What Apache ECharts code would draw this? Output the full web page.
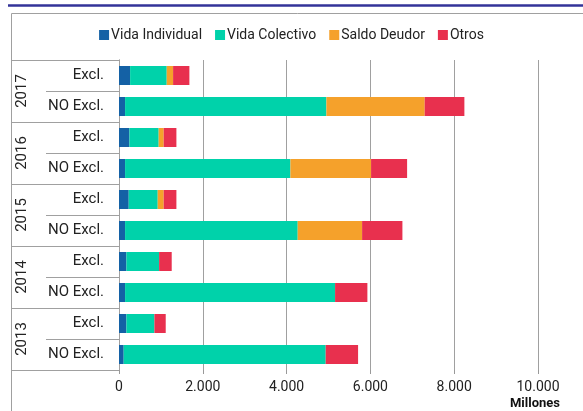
<!DOCTYPE html>
<html>
<head>
<meta charset="utf-8">
<script src="https://cdn.jsdelivr.net/npm/echarts@6/dist/echarts.min.js"></script>
<style>html,body{margin:0;padding:0;background:#fff}#c{width:583px;height:411px}</style>
</head>
<body>
<div id="c"></div>
<script>
const years = ['2017', '2016', '2015', '2014', '2013'];
const subCats = ['Excl.', 'NO Excl.', 'Excl.', 'NO Excl.', 'Excl.', 'NO Excl.', 'Excl.', 'NO Excl.', 'Excl.', 'NO Excl.'];
const seriesNames = ['Vida Individual', 'Vida Colectivo', 'Saldo Deudor', 'Otros'];
// Order: 2017 Excl, 2017 NO Excl, 2016 Excl, 2016 NO Excl, ... 2013 NO Excl
const vidaIndividual = [265, 145, 248, 145, 232, 145, 177, 145, 177, 112];
const vidaColectivo  = [874, 4805, 699, 3946, 692, 4120, 780, 5012, 668, 4821];
const saldoDeudor    = [152, 2346, 120, 1925, 143, 1537, 0, 0, 0, 0];
const otros          = [389, 947, 303, 860, 303, 962, 301, 771, 270, 773];
const xTicks = { min: 0, max: 10000, interval: 2000 };
const colors = ['#1461a5', '#00d2aa', '#f5a12b', '#e8304e'];

const chart = echarts.init(document.getElementById('c'), null, { renderer: 'canvas' });
const font = 'Roboto';
const valuesList = [vidaIndividual, vidaColectivo, saldoDeudor, otros];
const option = {
  animation: false,
  color: colors,
  textStyle: { fontFamily: font },
  legend: {
    data: seriesNames,
    left: 'center',
    top: 23,
    icon: 'rect',
    itemWidth: 10,
    itemHeight: 10,
    itemGap: 13,
    textStyle: { fontFamily: font, fontSize: 14, color: '#222', padding: [0, 0, 0, -3] }
  },
  grid: { left: 119, right: 45, top: 60, bottom: 41, containLabel: false },
  xAxis: {
    type: 'value',
    min: xTicks.min, max: xTicks.max, interval: xTicks.interval,
    axisLine: { show: false },
    axisTick: { show: true, length: 4, lineStyle: { color: '#999' } },
    axisLabel: {
      margin: 10, fontFamily: font, fontSize: 14, color: '#222',
      formatter: v => v.toString().replace(/\B(?=(\d{3})+(?!\d))/g, '.')
    },
    splitLine: { show: true, lineStyle: { color: '#a0a0a0', width: 1 } }
  },
  yAxis: [
    {
      type: 'category',
      data: subCats,
      inverse: true,
      position: 'left',
      axisLine: { show: true, lineStyle: { color: '#a0a0a0' } },
      axisTick: { show: true, length: 73, lineStyle: { color: '#a0a0a0' } },
      axisLabel: { margin: 15, fontFamily: font, fontSize: 15, color: '#222' }
    },
    {
      type: 'category',
      data: years,
      inverse: true,
      position: 'left',
      axisLine: { show: true, lineStyle: { color: '#a0a0a0' } },
      axisTick: { show: true, length: 107, lineStyle: { color: '#a0a0a0' } },
      axisLabel: { margin: 89, rotate: 90, fontFamily: font, fontSize: 15, color: '#222' }
    }
  ],
  series: seriesNames.map((n, i) => ({
    name: n,
    type: 'bar',
    stack: 'total',
    barWidth: 19,
    yAxisIndex: 0,
    itemStyle: { color: colors[i] },
    data: valuesList[i]
  })),
  graphic: [
    { type: 'line', shape: { x1: 8, y1: 5.5, x2: 583, y2: 5.5 }, style: { stroke: '#333399', lineWidth: 2.5 } },
    { type: 'line', shape: { x1: 11.5, y1: 13.5, x2: 583, y2: 13.5 }, style: { stroke: '#a0a0a0', lineWidth: 1 } },
    { type: 'line', shape: { x1: 11.5, y1: 13.5, x2: 11.5, y2: 411 }, style: { stroke: '#a0a0a0', lineWidth: 1 } },
    { type: 'text', x: 560, y: 404, style: { text: 'Millones', fontFamily: font, fontSize: 13, fontWeight: 'bold', fill: '#111', align: 'right', verticalAlign: 'middle' } }
  ]
};
chart.setOption(option);
</script>
</body>
</html>
